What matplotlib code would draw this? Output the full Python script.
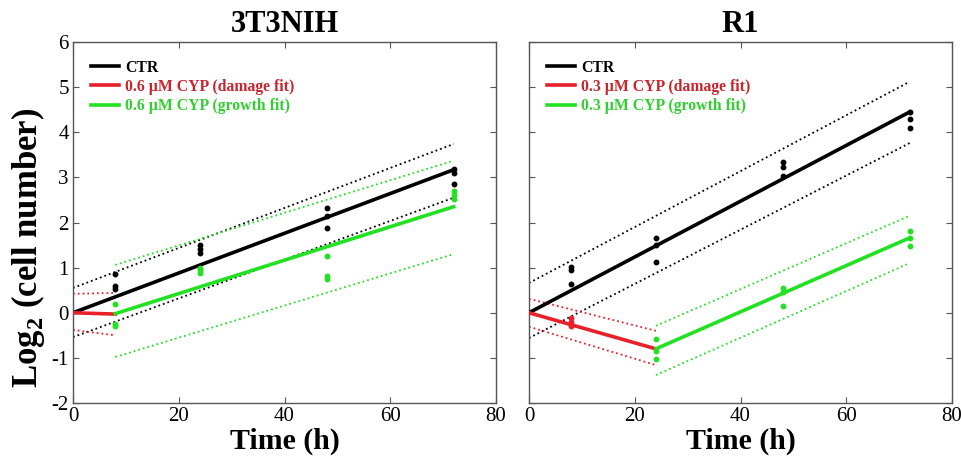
import matplotlib
matplotlib.use("Agg")
import matplotlib.pyplot as plt

plt.rcParams['font.family'] = ['Liberation Serif', 'DejaVu Serif']
plt.rcParams['mathtext.fontset'] = 'custom'
plt.rcParams['mathtext.rm'] = 'Liberation Serif:bold'
plt.rcParams['mathtext.bf'] = 'Liberation Serif:bold'
plt.rcParams['axes.unicode_minus'] = False

# sample times (h)
t_pts = [8, 24, 48, 72]

# ---- 3T3NIH ----
a_title = "3T3NIH"
a_dose = "0.6 \u00b5M CYP"
a_ctr_pts = [[0.85, 0.60, 0.52], [1.50, 1.42, 1.33], [2.33, 2.15, 1.88], [3.18, 3.10, 2.86]]
a_trt_pts = [[0.20, -0.25, -0.30], [1.00, 0.95, 0.88], [1.25, 0.82, 0.75], [2.70, 2.60, 2.52]]
a_ctr_fit = ([0, 72], [0.0, 3.17])
a_ctr_hi = ([0, 72], [0.55, 3.74])
a_ctr_lo = ([0, 72], [-0.54, 2.55])
a_dmg_fit = ([0, 8], [0.0, -0.03])
a_dmg_hi = ([0, 8], [0.42, 0.44])
a_dmg_lo = ([0, 8], [-0.38, -0.50])
a_dmg_pts = None
a_grw_fit = ([8, 72], [-0.02, 2.35])
a_grw_hi = ([8, 72], [1.06, 3.37])
a_grw_lo = ([8, 72], [-0.98, 1.30])

# ---- R1 ----
b_title = "R1"
b_dose = "0.3 \u00b5M CYP"
b_ctr_pts = [[1.02, 0.95, 0.63], [1.65, 1.50, 1.12], [3.35, 3.22, 3.02], [4.45, 4.30, 4.10]]
b_dmg_pts = ([8, 8, 8], [-0.12, -0.20, -0.30])
b_trt_pts = [None, [-0.58, -0.85, -1.02], [0.55, 0.45, 0.15], [1.82, 1.65, 1.47]]
b_ctr_fit = ([0, 72], [0.0, 4.45])
b_ctr_hi = ([0, 72], [0.66, 5.12])
b_ctr_lo = ([0, 72], [-0.56, 3.76])
b_dmg_fit = ([0, 24], [0.0, -0.80])
b_dmg_hi = ([0, 24], [0.31, -0.40])
b_dmg_lo = ([0, 24], [-0.31, -1.16])
b_grw_fit = ([24, 72], [-0.80, 1.66])
b_grw_hi = ([24, 72], [-0.29, 2.15])
b_grw_lo = ([24, 72], [-1.38, 1.10])

BLACK = '#000000'
RED = '#e8202a'
GREEN = '#22e022'
RED_TXT = '#c8242c'
GREEN_TXT = '#30d030'

fig = plt.figure(figsize=(9.61, 4.62), dpi=100)
ax1 = fig.add_axes([73 / 961, 1 - 403 / 462, 423 / 961, 361 / 462])
ax2 = fig.add_axes([529 / 961, 1 - 403 / 462, 423 / 961, 361 / 462])


def draw(ax, title, dose, ctr_pts, trt_pts, dmg_pts, ctr, chi, clo, dmg, dhi, dlo, grw, ghi, glo):
    # bands
    for (xs, ys), c in [(chi, BLACK), (clo, BLACK), (dhi, RED), (dlo, RED), (ghi, GREEN), (glo, GREEN)]:
        ax.plot(xs, ys, ':', color=c, lw=1.3)
    # data points
    for t, ys in zip(t_pts, ctr_pts):
        ax.plot([t] * len(ys), ys, 'o', color=BLACK, ms=3.2, zorder=4)
    for t, ys in zip(t_pts, trt_pts):
        if ys is not None:
            ax.plot([t] * len(ys), ys, 'o', color=GREEN, ms=3.2, zorder=4)
    if dmg_pts is not None:
        ax.plot(dmg_pts[0], dmg_pts[1], 'o', color=RED, ms=3.2, zorder=4)
    # fits
    h1, = ax.plot(*ctr, '-', color=BLACK, lw=2.6, zorder=3, label='CTR')
    h2, = ax.plot(*dmg, '-', color=RED, lw=2.6, zorder=3, label=dose + ' (damage fit)')
    h3, = ax.plot(*grw, '-', color=GREEN, lw=2.6, zorder=3, label=dose + ' (growth fit)')
    ax.legend(handles=[h1, h2, h3], loc='upper left', bbox_to_anchor=(0.008, 0.99),
              frameon=False, prop={'size': 11.3, 'weight': 'bold'},
              handlelength=1.8, handletextpad=0.4, labelspacing=0.2,
              labelcolor=[BLACK, RED_TXT, GREEN_TXT])

    ax.set_xlim(0, 80)
    ax.set_ylim(-2, 6)
    ax.set_xticks([0, 20, 40, 60, 80])
    ax.set_yticks(range(-2, 7))
    ax.tick_params(direction='in', top=True, right=True, length=4, width=0.8,
                   labelsize=15, color='#555555', pad=3)
    for s in ax.spines.values():
        s.set_color('#555555')
        s.set_linewidth(1.0)
    ax.set_title(title, fontsize=22, fontweight='bold', pad=7)
    ax.set_xlabel('Time (h)', fontsize=21.5, fontweight='bold', labelpad=1)


draw(ax1, a_title, a_dose, a_ctr_pts, a_trt_pts, a_dmg_pts, a_ctr_fit, a_ctr_hi, a_ctr_lo,
     a_dmg_fit, a_dmg_hi, a_dmg_lo, a_grw_fit, a_grw_hi, a_grw_lo)
draw(ax2, b_title, b_dose, b_ctr_pts, b_trt_pts, b_dmg_pts, b_ctr_fit, b_ctr_hi, b_ctr_lo,
     b_dmg_fit, b_dmg_hi, b_dmg_lo, b_grw_fit, b_grw_hi, b_grw_lo)

ax1.set_ylabel('Log$_2$ (cell number)', fontsize=25, fontweight='bold')
ax1.yaxis.set_label_coords(-0.062, 0.43)
ax2.set_yticklabels([])

fig.savefig('out.png', dpi=100)
